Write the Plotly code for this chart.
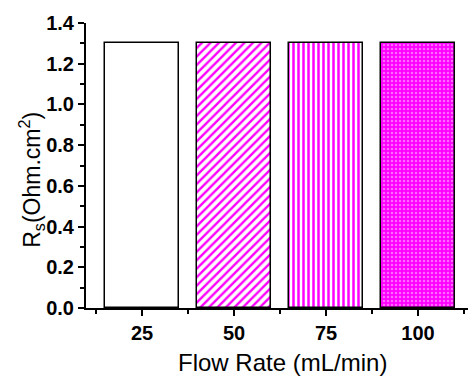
import plotly.graph_objects as go

# Solution resistance for each electrolyte flow rate
flow_rates = ["25", "50", "75", "100"]
rs_values = [1.3, 1.3, 1.3, 1.3]

# Fill pattern per bar
pattern_shapes = ["", "/", "|", "."]
MAGENTA = "#FF00FF"

positions = list(range(len(flow_rates)))

fig = go.Figure()
for pos, val, shape in zip(positions, rs_values, pattern_shapes):
    if shape == ".":
        marker = dict(
            color=MAGENTA,
            line=dict(color="black", width=1.5),
            pattern=dict(shape=".", fgcolor="#FFD2FF", fillmode="overlay",
                         size=4, solidity=0.3),
        )
    elif shape:
        marker = dict(
            color="white",
            line=dict(color="black", width=1.5),
            pattern=dict(shape=shape, fgcolor=MAGENTA, bgcolor="white",
                         fillmode="replace", size=6 if shape == "/" else 5,
                         solidity=0.4 if shape == "/" else 0.5),
        )
    else:
        marker = dict(color="white", line=dict(color="black", width=1.5))
    fig.add_trace(go.Bar(x=[pos], y=[val], width=0.8, marker=marker,
                         showlegend=False))

font_family = "Liberation Sans, Arial, sans-serif"

fig.update_layout(
    width=468, height=376,
    margin=dict(l=86, r=0, t=23, b=68),
    paper_bgcolor="white", plot_bgcolor="white",
    font=dict(family=font_family, color="black"),
    bargap=0,
)

fig.update_xaxes(
    range=[-0.609, 3.543],
    tickmode="array", tickvals=positions, ticktext=flow_rates,
    tickfont=dict(size=20, weight="bold", family=font_family),
    ticks="outside", ticklen=6, tickwidth=2, tickcolor="black",
    minor=dict(tick0=0.5, dtick=1, ticks="outside", ticklen=4,
               tickwidth=2, tickcolor="black"),
    showline=True, linecolor="black", linewidth=2,
    showgrid=False, zeroline=False,
)

fig.update_yaxes(
    range=[0, 1.4], dtick=0.2, tick0=0, tickformat=".1f",
    tickfont=dict(size=20, weight="bold", family=font_family),
    ticks="outside", ticklen=6, tickwidth=2, tickcolor="black",
    minor=dict(dtick=0.1, ticks="outside", ticklen=4,
               tickwidth=2, tickcolor="black"),
    showline=True, linecolor="black", linewidth=2,
    showgrid=False, zeroline=False,
)

# Axis titles placed as annotations for precise positioning
fig.add_annotation(
    text="Flow Rate (mL/min)", xref="paper", yref="paper",
    x=0.5, y=0, xshift=5, yshift=-39, xanchor="center", yanchor="top",
    showarrow=False, font=dict(size=24, family=font_family),
)
fig.add_annotation(
    text="R<sub>s</sub>(Ohm.cm<sup>2</sup>)", xref="paper", yref="paper",
    x=0, y=0.45, xshift=-55, xanchor="center", yanchor="middle",
    textangle=-90, showarrow=False, font=dict(size=23, family=font_family),
)

fig.write_html("out.html")
